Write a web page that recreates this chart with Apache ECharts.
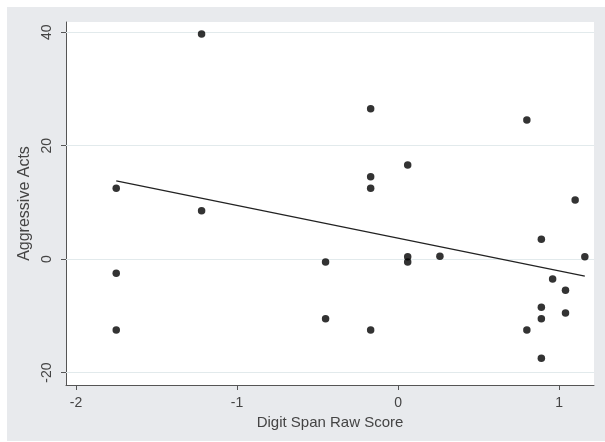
<!DOCTYPE html>
<html>
<head>
<meta charset="utf-8">
<script src="https://cdn.jsdelivr.net/npm/echarts@6/dist/echarts.min.js"></script>
<style>html,body{margin:0;padding:0;background:#fff;}#c{width:605px;height:442px;}</style>
</head>
<body>
<div id="c"></div>
<script>
// Scatter values (Digit Span Raw Score, Aggressive Acts)
var xValues = [-1.75, -1.75, -1.75, -1.22, -1.22, -0.45, -0.45, -0.17, -0.17, -0.17, -0.17, 0.06, 0.06, 0.06, 0.26, 0.80, 0.80, 0.89, 0.89, 0.89, 0.89, 0.96, 1.04, 1.04, 1.10, 1.16];
var yValues = [12.5, -2.5, -12.5, 39.7, 8.5, -0.5, -10.5, 26.5, 14.5, 12.5, -12.5, 16.6, 0.4, -0.5, 0.5, 24.5, -12.5, 3.5, -8.5, -10.5, -17.5, -3.5, -5.5, -9.5, 10.4, 0.4];
// Fitted line endpoints
var fitX = [-1.75, 1.16];
var fitY = [13.8, -3.0];
// Tick labels
var xTicks = [-2, -1, 0, 1];
var yTicks = [-20, 0, 20, 40];

var points = xValues.map(function (x, i) { return [x, yValues[i]]; });
var fitLine = fitX.map(function (x, i) { return [x, fitY[i]]; });

var textColor = '#444';
var font = 'Liberation Sans, Arial, sans-serif';

var chart = echarts.init(document.getElementById('c'), null, {renderer: 'canvas'});
chart.setOption({
  backgroundColor: '#fff',
  animation: false,
  graphic: [{
    type: 'rect', z: -10, silent: true,
    shape: {x: 7, y: 7, width: 598, height: 434},
    style: {fill: '#e8eaed'}
  }],
  grid: {left: 66, top: 22, right: 11, bottom: 57, show: true, backgroundColor: '#fff', borderWidth: 0},
  xAxis: {
    type: 'value', min: -2.062, max: 1.217,
    name: 'Digit Span Raw Score', nameLocation: 'middle', nameGap: 26,
    nameTextStyle: {color: textColor, fontSize: 15, fontFamily: font},
    axisLine: {show: true, onZero: false, lineStyle: {color: '#555', width: 1}},
    axisTick: {show: true, length: 5, customValues: xTicks, lineStyle: {color: '#555'}},
    axisLabel: {customValues: xTicks, color: textColor, fontSize: 14, fontFamily: font, margin: 11,
      formatter: function (v) { return String(v); }},
    splitLine: {show: false}
  },
  yAxis: {
    type: 'value', min: -22.2, max: 41.8,
    name: 'Aggressive Acts', nameLocation: 'middle', nameGap: 29, nameRotate: 90,
    nameTextStyle: {color: textColor, fontSize: 16, fontFamily: font},
    axisLine: {show: true, onZero: false, lineStyle: {color: '#555', width: 1}},
    axisTick: {show: true, length: 5, customValues: yTicks, lineStyle: {color: '#555'}},
    axisLabel: {customValues: yTicks, rotate: 90, color: textColor, fontSize: 14, fontFamily: font, margin: 12,
      formatter: function (v) { return String(v); }},
    splitLine: {show: false}
  },
  series: [{
    type: 'line', data: fitLine, symbol: 'none', silent: true,
    lineStyle: {color: '#222', width: 1.2}, z: 3,
    markLine: {
      silent: true, symbol: 'none', label: {show: false}, animation: false,
      lineStyle: {color: '#e2eaec', width: 1, type: 'solid'},
      data: yTicks.map(function (t) { return {yAxis: t}; }),
      z: 1
    }
  }, {
    type: 'scatter', data: points, symbol: 'circle', symbolSize: 7.5,
    itemStyle: {color: '#000'}, z: 4
  }]
});
</script>
</body>
</html>
